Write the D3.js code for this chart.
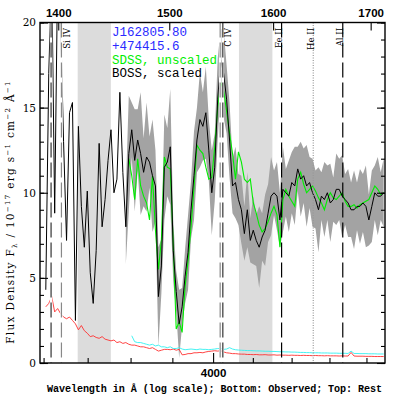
<!DOCTYPE html>
<html>
<head>
<meta charset="utf-8">
<script src="https://cdn.jsdelivr.net/npm/d3@7"></script>
<style>
body { margin: 0; background: #fff; }
svg { display: block; }
</style>
</head>
<body>
<svg id="chart" width="407" height="407"></svg>
<script>
// spectrum grid: SDSS style log-lambda (observed frame)
var loglam0 = 3.5553, dloglam = 0.0008;
var redshift = 1.595;

// BOSS (scaled) flux, starts at pixel 2
var bossStart = 2;
var bossFlux = [4.3, 17, 23, 8.8, 23, 20, 13, 7.2, 14.7, 15.3, 2.5, 13.9, 9.2, 6.8, 10.1, 5.3, 3.5, 6.6, 12.9, 8,
    9.6, 11.9, 13.7, 10, 10.8, 15.9, 11.2, 8, 12.3, 13.7, 11.9, 13.1, 12.3, 11.2, 12.1, 11.8, 11, 10.4, 3.9, 5.7,
    11.5, 11.8, 12.7, 6.6, 4.2, 2.3, 3.3, 5.1, 6.5, 9, 11, 13.1, 14.3, 13.9, 14.7, 12.5, 10, 11.5, 15.5, 17.8,
    17, 15.5, 13.1, 10.4, 10.6, 9.6, 9, 7.6, 9, 7.2, 7.8, 7.2, 6.8, 7.4, 7.8, 8.8, 9.8, 10, 9.8, 8.4,
    10.2, 10, 9.8, 10.6, 10.4, 11.4, 10.8, 11, 10.4, 10.6, 10, 9.6, 9, 9.8, 9.6, 10, 9.4, 9.6, 10.2, 10.2,
    9.8, 9.6, 9.4, 9, 9, 9.2, 9.2, 9.4, 9.2, 8.4, 9.2, 10, 9.8, 9.8, 10];

// grey band half width round the BOSS flux, starts at pixel 29
var bandStart = 29;
var bandWidth = [2.2, 3.4, 1.6, 3.0, 1.8, 3.6, 2.0, 3.2, 1.5, 3.3, 2.1, 2.9, 1.6, 3.1, 2.0, 3.4,
    1.8, 1.2, 2.0, 1.1, 1.6, 2.2, 1.7, 2.6, 1.9, 2.8, 2.0, 2.7, 1.8, 2.5, 2.0,
    2.4, 1.8, 2.6, 2.0, 2.2, 1.6, 2.1, 1.5, 2.0,
    1.6, 2.2, 1.3, 2.0, 1.5, 2.4, 1.4, 2.1, 1.7, 2.3, 1.3, 2.0, 1.6, 2.5, 1.4, 2.1, 1.8, 2.3, 1.3, 2.2,
    1.6, 2.4, 1.5, 2.0, 1.7, 2.5, 1.4, 2.2, 1.6, 2.3, 1.3, 2.1, 1.8, 2.4, 1.5, 2.0, 1.6, 2.3, 1.4, 2.2,
    1.7, 2.4, 1.5, 2.1, 1.6, 2.3, 1.4, 2.0];

// SDSS (unscaled) flux, starts at pixel 30
var sdssStart = 30;
var sdssFlux = [12, 11, 9.6, 12, 10.4, 9.8, 9.4, 8.4, 11, 7.8, 5.5, 7.2, 12.1, 11.5, 11.4, 7, 2, 2.4, 1.8, 4.5,
    6, 8, 10.3, 12.8, 12.5, 12.3, 11.5, 10.8, 10.9, 12.7, 15, 16.5, 16, 14.8, 13.5, 12.3, 10.8, 12.4, 11.8, 10.8,
    10.6, 10.8, 9.4, 8.8, 8.1, 7.7, 7.9, 8.3, 8.8, 9.2, 8.7, 6.8, 9.6, 10.2, 9.8, 9.5, 9.2, 10.8, 11.2, 10.5,
    10, 10.2, 10.4, 10.1, 9.7, 9.4, 9, 9.6, 10, 9.7, 9.6, 9.8, 10, 9.5, 9.2, 9.2, 9.3, 9.1, 9.3, 9.4,
    9.5, 9.6, 10, 10.4, 10.2, 9.9, 10];

// BOSS error (red), starts at pixel 2
var bossErrStart = 2;
var bossErr = [3.3, 3.5, 3.9, 3.0, 3.2, 2.9, 2.7, 2.6, 2.7, 2.5, 2.3, 1.95, 2.2, 1.9, 1.75, 1.55, 1.6, 1.5, 1.45, 1.55,
    1.4, 1.35, 1.3, 1.35, 1.2, 1.25, 1.15, 1.2, 1.1,
    1.05, 1.05, 1.0, 0.95, 0.95, 0.9, 0.85, 0.9, 0.8, 0.7, 0.75, 0.8, 0.8, 0.78, 0.82, 0.75, 0.8, 0.48, 0.5, 0.55,
    0.55, 0.6, 0.6, 0.62, 0.6, 0.65, 0.68, 0.7, 0.72, 0.7, 0.72, 0.65, 0.6, 0.58, 0.55, 0.55, 0.53, 0.52,
    0.52, 0.5, 0.5, 0.49, 0.5, 0.48, 0.48, 0.49, 0.47, 0.47, 0.48, 0.46, 0.47, 0.46, 0.46, 0.45, 0.46, 0.45, 0.45, 0.44,
    0.45, 0.44, 0.44, 0.43, 0.44, 0.43, 0.43, 0.42, 0.43, 0.42, 0.42, 0.42, 0.41, 0.42, 0.41, 0.41, 0.62, 0.41, 0.4, 0.4,
    0.4, 0.39, 0.39, 0.39, 0.38, 0.38, 0.38, 0.38];

// SDSS error (cyan), starts at pixel 31
var sdssErrStart = 31;
var sdssErr = [1.6, 1.25, 1.2, 1.2, 1.15, 1.1, 1.05, 1.1, 1.0, 1.05, 0.95, 0.95, 0.9, 0.95, 0.85, 0.85, 0.9, 0.82, 0.78, 0.8,
    0.82, 0.8, 0.78, 0.82, 0.8, 0.8, 0.78, 0.8, 0.82, 0.85, 0.85, 0.8, 0.82, 0.9, 0.82, 0.78, 0.76,
    0.75, 0.74, 0.73, 0.73, 0.72, 0.71, 0.71, 0.7, 0.69, 0.69, 0.68, 0.68, 0.67, 0.66, 0.66, 0.65, 0.65, 0.64, 0.64, 0.63,
    0.62, 0.62, 0.61, 0.61, 0.6, 0.6, 0.6, 0.59, 0.59, 0.59, 0.58, 0.58, 0.58, 0.57, 0.57, 0.57, 0.56, 0.7, 0.56, 0.56,
    0.55, 0.55, 0.55, 0.54, 0.54, 0.54, 0.53, 0.53, 0.53];

// rest frame windows and lines
var shadeBands = [[1417, 1446.5], [1566.4, 1599.3]];
var lineLabels = ["Si IV", "C IV", "Fe II", "He II", "Al II"];
var lineWaves = [[1393.76, 1402.77], [1548.20, 1550.77], [1608.45], [1640.42], [1670.79]];

var restTicks = [1400, 1500, 1600, 1700];
var obsMajor = [4000];
var obsMinor = [3600, 3700, 3800, 3900, 4100, 4200, 4300, 4400];
var fluxMajor = [0, 5, 10, 15, 20];

var legendLines = ["J162805.80", "+474415.6", "SDSS, unscaled", "BOSS, scaled"];
var legendColors = ["#2a2aff", "#2a2aff", "#00ee00", "#000"];

var obsMin = 3592, obsMax = 4451;
var L = 40, R = 385, T = 22.5, B = 363;

var svg = d3.select("#chart");

var x = d3.scaleLog().domain([obsMin, obsMax]).range([L, R]);
var xRest = d3.scaleLog().domain([obsMin / (1 + redshift), obsMax / (1 + redshift)]).range([L, R]);
var y = d3.scaleLinear().domain([0, 20]).range([B, T]);

function wave(i) {
    return Math.pow(10, loglam0 + i * dloglam);
}
function toPoints(arr, start) {
    return arr.map(function (v, k) {
        return {w: wave(start + k), v: v};
    });
}

svg.append("clipPath").attr("id", "clip")
    .append("rect").attr("x", L).attr("y", T).attr("width", R - L).attr("height", B - T);

var plot = svg.append("g").attr("clip-path", "url(#clip)");

// shaded windows
plot.selectAll("rect.band")
    .data(shadeBands)
    .enter().append("rect")
    .attr("class", "band")
    .attr("x", function (d) { return xRest(d[0]); })
    .attr("y", T)
    .attr("width", function (d) { return xRest(d[1]) - xRest(d[0]); })
    .attr("height", B - T)
    .attr("fill", "#dcdcdc");

// grey band
var bandPts = bandWidth.map(function (wd, k) {
    var i = bandStart + k;
    return {w: wave(i), v: bossFlux[i - bossStart], e: wd};
});
var bandArea = d3.area()
    .x(function (d) { return x(d.w); })
    .y0(function (d) { return y(d.v - d.e); })
    .y1(function (d) { return y(d.v + d.e); });
plot.append("path").datum(bandPts)
    .attr("d", bandArea)
    .attr("fill", "#a3a3a3");

var line = d3.line()
    .x(function (d) { return x(d.w); })
    .y(function (d) { return y(d.v); });

plot.append("path").datum(toPoints(sdssFlux, sdssStart))
    .attr("d", line).attr("fill", "none").attr("stroke", "#00ee00").attr("stroke-width", 1.1);

plot.append("path").datum(toPoints(bossFlux, bossStart))
    .attr("d", line).attr("fill", "none").attr("stroke", "#000").attr("stroke-width", 1);

plot.append("path").datum(toPoints(bossErr, bossErrStart))
    .attr("d", line).attr("fill", "none").attr("stroke", "#ff3030").attr("stroke-width", 0.9);

plot.append("path").datum(toPoints(sdssErr, sdssErrStart))
    .attr("d", line).attr("fill", "none").attr("stroke", "#30f0f0").attr("stroke-width", 0.9);

// line markers
lineWaves.forEach(function (ws, gi) {
    ws.forEach(function (w, k) {
        var lx = xRest(w);
        var dotted = lineLabels[gi] === "He II";
        var col = dotted ? "#999" : "#000";
        if (ws.length > 1) {
            col = (gi === 0) === (k === 0) ? "#333" : "#888";
            plot.append("line")
                .attr("x1", lx).attr("x2", lx).attr("y1", T).attr("y2", B)
                .attr("stroke", "#fff").attr("stroke-width", 2.5);
        }
        plot.append("line")
            .attr("x1", lx).attr("x2", lx).attr("y1", T).attr("y2", B)
            .attr("stroke", col).attr("stroke-width", 1.2)
            .attr("stroke-dasharray", dotted ? "1,1.5" : "15,5");
    });
    var last = ws[ws.length - 1];
    var tx = ws.length > 1 ? xRest(last) + 8.5 : xRest(last) + 0.5;
    svg.append("text")
        .attr("transform", "translate(" + tx + ",28) rotate(-90)")
        .attr("text-anchor", "end")
        .attr("font-family", "DejaVu Serif")
        .attr("font-size", 8.5)
        .attr("fill", "#000")
        .text(lineLabels[gi]);
});

// legend
svg.selectAll("text.legend")
    .data(legendLines)
    .enter().append("text")
    .attr("class", "legend")
    .attr("x", 112)
    .attr("y", function (d, i) { return 36 + i * 13.8; })
    .attr("font-family", "Liberation Mono")
    .attr("font-size", 12.5)
    .attr("fill", function (d, i) { return legendColors[i]; })
    .text(function (d) { return d; });

// axes
function styleAxis(g, fam, size, weight) {
    g.select(".domain").remove();
    g.selectAll("line").attr("stroke", "#000").attr("stroke-width", 1.1);
    g.attr("font-family", fam).attr("font-size", size).attr("font-weight", weight);
    g.selectAll("text").attr("fill", "#000");
}

svg.append("g").attr("transform", "translate(" + L + ",0)")
    .call(d3.axisLeft(y).tickValues(fluxMajor).tickSize(-8).tickPadding(4))
    .call(styleAxis, "DejaVu Serif", 10.5, "normal");
svg.append("g").attr("transform", "translate(" + L + ",0)")
    .call(d3.axisLeft(y).tickValues(d3.range(0, 21)).tickSize(-4).tickFormat(""))
    .call(styleAxis, "DejaVu Serif", 10, "normal");
svg.append("g").attr("transform", "translate(" + R + ",0)")
    .call(d3.axisRight(y).tickValues(fluxMajor).tickSize(-8).tickFormat(""))
    .call(styleAxis, "DejaVu Serif", 10, "normal");
svg.append("g").attr("transform", "translate(" + R + ",0)")
    .call(d3.axisRight(y).tickValues(d3.range(0, 21)).tickSize(-4).tickFormat(""))
    .call(styleAxis, "DejaVu Serif", 10, "normal");

svg.append("g").attr("transform", "translate(0," + T + ")")
    .call(d3.axisTop(xRest).tickValues(restTicks).tickSize(-8).tickPadding(6).tickFormat(d3.format("d")))
    .call(styleAxis, "Liberation Sans", 11.5, "bold");

svg.append("g").attr("transform", "translate(0," + B + ")")
    .call(d3.axisBottom(x).tickValues(obsMajor).tickSize(-10).tickPadding(6).tickFormat(d3.format("d")))
    .call(styleAxis, "Liberation Sans", 11.5, "bold");
svg.append("g").attr("transform", "translate(0," + B + ")")
    .call(d3.axisBottom(x).tickValues(obsMinor).tickSize(-5).tickFormat(""))
    .call(styleAxis, "Liberation Sans", 11, "bold");

// frame
svg.append("rect")
    .attr("x", L).attr("y", T).attr("width", R - L).attr("height", B - T)
    .attr("fill", "none").attr("stroke", "#000").attr("stroke-width", 1.4);

// axis titles
svg.append("text")
    .attr("x", 47).attr("y", 391.5)
    .attr("font-family", "Liberation Mono")
    .attr("font-weight", "bold")
    .attr("font-size", 10.1)
    .attr("textLength", 335)
    .attr("lengthAdjust", "spacing")
    .attr("fill", "#000")
    .text("Wavelength in \u00c5 (log scale); Bottom: Observed; Top: Rest");

var ylab = svg.append("text")
    .attr("transform", "translate(14,212) rotate(-90)")
    .attr("text-anchor", "middle")
    .attr("font-family", "DejaVu Serif")
    .attr("font-size", 10.5)
    .attr("letter-spacing", 1.3)
    .attr("fill", "#000");
ylab.append("tspan").text("Flux Density F");
ylab.append("tspan").attr("font-size", 7).attr("dy", 2.5).text("\u03bb");
ylab.append("tspan").attr("dy", -2.5).text(" / 10");
ylab.append("tspan").attr("font-size", 7).attr("dy", -4).text("\u221217");
ylab.append("tspan").attr("dy", 4).text(" erg s");
ylab.append("tspan").attr("font-size", 7).attr("dy", -4).text("\u22121");
ylab.append("tspan").attr("dy", 4).text(" cm");
ylab.append("tspan").attr("font-size", 7).attr("dy", -4).text("\u22122");
ylab.append("tspan").attr("dy", 4).text(" \u00c5");
ylab.append("tspan").attr("font-size", 7).attr("dy", -4).text("\u22121");
</script>
</body>
</html>
